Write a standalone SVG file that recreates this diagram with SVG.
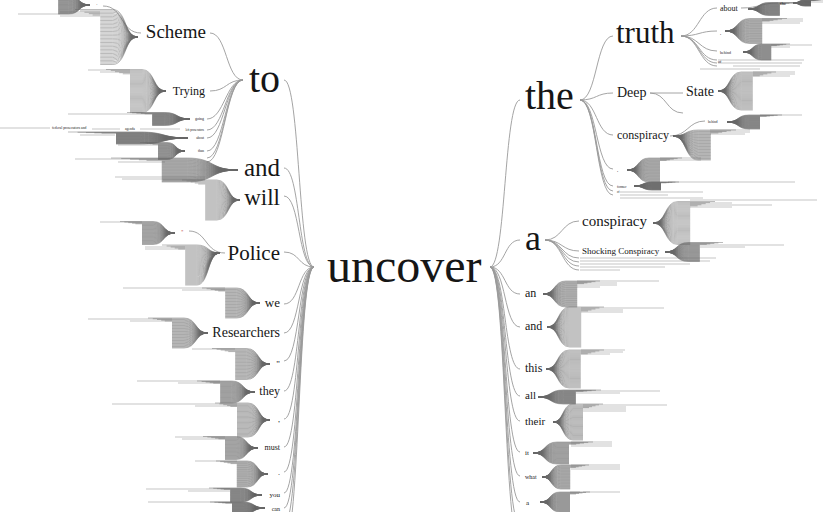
<svg xmlns="http://www.w3.org/2000/svg" xmlns:xlink="http://www.w3.org/1999/xlink" width="823" height="512" viewBox="0 0 823 512" font-family="'Liberation Serif','DejaVu Serif',serif">
<style>
text{font-family:'Liberation Serif','DejaVu Serif',serif;fill:#161616}
.l{text-anchor:end}
.c{fill:none;stroke:#9a9a9a;stroke-width:0.9}
.t{fill:none;stroke:#a0a0a0;stroke-width:0.6}
.f{fill:none;stroke:#666;stroke-width:0.45;vector-effect:non-scaling-stroke}
</style>
<defs>
<path id="fanM" class="f" d="M0 0C-22 0-18-50-40-50H-100M0 0C-22 0-18-47.5-40-47.5H-92M0 0C-22 0-18-45-40-45H-85M0 0C-22 0-18-42.5-40-42.5H-78M0 0C-22 0-18-40-40-40H-72M0 0C-22 0-18-37.5-40-37.5H-60M0 0C-22 0-18-35-40-35H-60M0 0C-22 0-18-32.5-40-32.5H-60M0 0C-22 0-18-30-40-30H-60M0 0C-22 0-18-27.5-40-27.5H-60M0 0C-22 0-18-25-40-25H-60M0 0C-22 0-18-22.5-40-22.5H-60M0 0C-22 0-18-20-40-20H-60M0 0C-22 0-18-17.5-40-17.5H-60M0 0C-22 0-18-15-40-15H-60M0 0C-22 0-18-12.5-40-12.5H-60M0 0C-22 0-18-10-40-10H-60M0 0C-22 0-18-7.5-40-7.5H-60M0 0C-22 0-18-5-40-5H-60M0 0C-22 0-18-2.5-40-2.5H-60M0 0H-60M0 0C-22 0-18 2.5-40 2.5H-60M0 0C-22 0-18 5-40 5H-60M0 0C-22 0-18 7.5-40 7.5H-60M0 0C-22 0-18 10-40 10H-60M0 0C-22 0-18 12.5-40 12.5H-60M0 0C-22 0-18 15-40 15H-60M0 0C-22 0-18 17.5-40 17.5H-60M0 0C-22 0-18 20-40 20H-60M0 0C-22 0-18 22.5-40 22.5H-60M0 0C-22 0-18 25-40 25H-60M0 0C-22 0-18 27.5-40 27.5H-60M0 0C-22 0-18 30-40 30H-60M0 0C-22 0-18 32.5-40 32.5H-60M0 0C-22 0-18 35-40 35H-60M0 0C-22 0-18 37.5-40 37.5H-60M0 0C-22 0-18 40-40 40H-60M0 0C-22 0-18 42.5-40 42.5H-60M0 0C-22 0-18 45-40 45H-60M0 0C-22 0-18 47.5-40 47.5H-60M0 0C-22 0-18 50-40 50H-60"/>
<path id="fanT" class="f" d="M0 0C-22 0-18-20-40-20H-100M0 0C-22 0-18-17.5-40-17.5H-92M0 0C-22 0-18-15-40-15H-85M0 0C-22 0-18-12.5-40-12.5H-78M0 0C-22 0-18-10-40-10H-72M0 0C-22 0-18-7.5-40-7.5H-60M0 0C-22 0-18-5-40-5H-60M0 0C-22 0-18-2.5-40-2.5H-60M0 0H-60M0 0C-22 0-18 2.5-40 2.5H-60M0 0C-22 0-18 5-40 5H-60M0 0C-22 0-18 7.5-40 7.5H-60M0 0C-22 0-18 10-40 10H-60M0 0C-22 0-18 12.5-40 12.5H-60M0 0C-22 0-18 15-40 15H-60M0 0C-22 0-18 17.5-40 17.5H-60M0 0C-22 0-18 20-40 20H-60M0 0C-22 0-18 22.5-40 22.5H-60M0 0C-22 0-18 25-40 25H-60M0 0C-22 0-18 27.5-40 27.5H-60M0 0C-22 0-18 30-40 30H-60M0 0C-22 0-18 32.5-40 32.5H-60M0 0C-22 0-18 35-40 35H-60M0 0C-22 0-18 37.5-40 37.5H-60M0 0C-22 0-18 40-40 40H-60M0 0C-22 0-18 42.5-40 42.5H-60M0 0C-22 0-18 45-40 45H-60M0 0C-22 0-18 47.5-40 47.5H-60M0 0C-22 0-18 50-40 50H-60M0 0C-22 0-18 52.5-40 52.5H-60M0 0C-22 0-18 55-40 55H-60M0 0C-22 0-18 57.5-40 57.5H-60M0 0C-22 0-18 60-40 60H-60M0 0C-22 0-18 62.5-40 62.5H-60M0 0C-22 0-18 65-40 65H-60M0 0C-22 0-18 67.5-40 67.5H-60M0 0C-22 0-18 70-40 70H-60M0 0C-22 0-18 72.5-40 72.5H-60M0 0C-22 0-18 75-40 75H-60M0 0C-22 0-18 77.5-40 77.5H-60M0 0C-22 0-18 80-40 80H-60"/>
</defs>

<g id="connectors">
<path class="c" d="M314 267C298 267 300 80 284 80M314 267C298 267 300 168 284 168M314 267C298 267 300 196 284 196M314 267C298 267 300 252 284 252M314 267C298 267 300 304 284 304M314 267C298 267 300 333 284 333M314 267C298 267 300 361 284 361M314 267C298 267 300 391 284 391M314 267C298 267 300 419 284 419M314 267C298 267 300 447 284 447M314 267C298 267 300 472 284 472M314 267C298 267 300 493 284 493M314 267C298 267 300 508 284 508M314 267C298 267 300 525 284 525M314 267C298 267 300 545 284 545"/>
<path class="c" d="M490 267C506 267 504 100 520 100M490 267C506 267 504 240 520 240M490 267C506 267 504 294 520 294M490 267C506 267 504 327 520 327M490 267C506 267 504 369 520 369M490 267C506 267 504 396 520 396M490 267C506 267 504 421 520 421M490 267C506 267 504 452 520 452M490 267C506 267 504 476 520 476M490 267C506 267 504 502 520 502M490 267C506 267 504 525 520 525M490 267C506 267 504 545 520 545"/>
<path class="c" d="M243 80C226 80 227 33 210 33M243 80C226 80 227 91 210 91M243 80C226 80 224 119 207 119M243 80C226 80 224 130 207 130M243 80C226 80 224 138 207 138M243 80C226 80 224 151 207 151M243 80C226 80 224 158 207 158M243 80C226 80 224 162 207 162"/>
<path class="c" d="M141 33C120 33 124 6 103 6M225 253C205 253 207 231 189 231"/>
<path class="c" d="M580 100C597 100 596 36 613 36M580 100C597 100 596 93 613 93M580 100C597 100 596 135 613 135M580 100C597 100 596 169 613 169M580 100C597 100 596 186 613 186M580 100C597 100 596 191 613 191M580 100C597 100 596 195 613 195"/>
<path class="c" d="M681 36C699 36 699 8 717 8M681 36C699 36 699 31 717 31M681 36C699 36 699 51 717 51M681 36C699 36 699 60 717 60M681 36C699 36 699 63 717 63M681 36C699 36 699 66 717 66"/>
<path class="c" d="M650 93H683M650 93C667 93 666 113 683 113M670 136C688 136 688 121 705 121M741 8C760 8 760 3 778 3"/>
<path class="c" d="M545 240C562 240 562 221 579 221M545 240C562 240 562 251 579 251M545 240C562 240 562 258 579 258M545 240C562 240 562 262 579 262M545 240C562 240 562 266 579 266M545 240C562 240 562 270 579 270"/>
<path class="t" d="M60 12H100M18 14H100M60 16H100M88 70H130M100 72H130M68 114H152M0 128H50M92 129H120M140 129H180M80 135H115M118 145H158M75 159H170M118 162H165M115 177H205M122 179H205M163 180H205M100 222H142M145 247H185M145 249H185M123 288H225M182 290H225M88 319H172M130 321H172M192 349H235M137 381H220M178 383H220M112 404H237M195 406H237M175 437H225M182 439H225M195 461H237M146 489H230M188 491H230M148 502H232"/>
<path class="t" d="M800 2H823M762 19H803M762 21H803M762 23H800M771 45H812M771 47H790M718 60H804M718 63H802M733 66H800M700 69H760M753 72H795M753 74H795M753 76H790M760 115H802M710 130H750M710 132H750M710 134H745M660 158H701M660 160H701M668 182H795M620 192H703M620 195H668M620 198H703M690 200H817M690 203H732M690 205H772M690 207H732M700 245H784M700 247H745M580 258H716M580 261H710M580 264H690M580 267H665M580 270H620M577 281H659M577 283H617M577 285H617M577 287H600M581 308H664M581 310H623M581 312H623M581 350H625M581 352H623M581 354H610M576 391H660M576 393H620M583 405H667M583 407H626M583 409H626M583 411H626M571 442H612M571 444H612M571 446H612M571 465H620M571 467H620M571 469H620M570 492H580M583 492H620"/>
</g>

<g id="n-uncover"><text x="327" y="282" font-size="48">uncover</text></g>

<g id="n-to"><text class="l" x="280" y="92" font-size="40">to</text></g>
<g id="n-scheme"><use xlink:href="#fanM" transform="translate(138,37) scale(.63,.55)"/><text class="l" x="206" y="38" font-size="19">Scheme</text></g>
<g id="n-dot"><use xlink:href="#fanM" transform="translate(90,5) scale(.53,.18)"/><text x="96" y="6" font-size="5">·</text></g>
<g id="n-trying"><use xlink:href="#fanM" transform="translate(166,91) scale(.6,.43)"/><text class="l" x="205" y="95" font-size="12">Trying</text></g>
<g id="n-going"><use xlink:href="#fanM" transform="translate(190,119) scale(.63,.13)"/><text class="l" x="204" y="120" font-size="4">going</text></g>
<g id="n-leftpros"><text class="l" x="204" y="131" font-size="3">left prosecutors</text><text x="125" y="130" font-size="3.5">agenda</text><text x="52" y="129" font-size="3.7">federal prosecutors and</text></g>
<g id="n-about-l"><use xlink:href="#fanM" transform="translate(188,138) scale(1.2,.12)"/><text class="l" x="204" y="139" font-size="3.5">about</text></g>
<g id="n-than"><use xlink:href="#fanM" transform="translate(185,151) scale(.45,.17)"/><text class="l" x="204" y="152" font-size="3.5">than</text></g>
<g id="n-and-l"><use xlink:href="#fanM" transform="translate(238,170) scale(1.27,.24)"/><text class="l" x="280" y="176" font-size="25">and</text></g>
<g id="n-will"><use xlink:href="#fanM" transform="translate(240,200) scale(.58,.4)"/><text class="l" x="280" y="205" font-size="23">will</text></g>
<g id="n-star"><use xlink:href="#fanM" transform="translate(175,233) scale(.55,.23)"/><text x="181" y="233" font-size="5" style="fill:#c04040">*</text></g>
<g id="n-police"><use xlink:href="#fanT" transform="translate(220,253) scale(.58,.4)"/><text class="l" x="280" y="260" font-size="21">Police</text></g>
<g id="n-we"><use xlink:href="#fanM" transform="translate(260,303) scale(.58,.3)"/><text class="l" x="280" y="307" font-size="13">we</text></g>
<g id="n-researchers"><use xlink:href="#fanM" transform="translate(208,333) scale(.6,.3)"/><text class="l" x="280" y="337" font-size="14">Researchers</text></g>
<g id="n-quote"><use xlink:href="#fanM" transform="translate(270,364) scale(.58,.31)"/><text class="l" x="280" y="367" font-size="9">"</text></g>
<g id="n-they"><use xlink:href="#fanM" transform="translate(255,392) scale(.58,.22)"/><text class="l" x="280" y="395" font-size="12">they</text></g>
<g id="n-comma-l"><use xlink:href="#fanM" transform="translate(270,420) scale(.55,.34)"/><text class="l" x="280" y="422" font-size="8">,</text></g>
<g id="n-must"><use xlink:href="#fanM" transform="translate(258,448) scale(.55,.23)"/><text class="l" x="280" y="450" font-size="8">must</text></g>
<g id="n-period"><use xlink:href="#fanM" transform="translate(268,474) scale(.52,.26)"/><text class="l" x="280" y="475" font-size="8">.</text></g>
<g id="n-you"><use xlink:href="#fanM" transform="translate(262,495) scale(.53,.14)"/><text class="l" x="280" y="497" font-size="7">you</text></g>
<g id="n-can"><use xlink:href="#fanM" transform="translate(265,508) scale(.55,.12)"/><text class="l" x="280" y="511" font-size="6">can</text></g>

<g id="n-the"><text x="525" y="109" font-size="40">the</text></g>
<g id="n-truth"><text x="616" y="43" font-size="31">truth</text></g>
<g id="n-about-r"><use xlink:href="#fanM" transform="translate(748,9) scale(-.53,.13)"/><text x="720" y="11" font-size="8">about</text></g>
<g id="n-the-s"><use xlink:href="#fanM" transform="translate(793,3) scale(-.3,.06)"/><text x="780" y="5" font-size="5">the</text></g>
<g id="n-comma-t"><use xlink:href="#fanM" transform="translate(725,31) scale(-.62,.25)"/><text x="720" y="34" font-size="5">,</text></g>
<g id="n-behind"><use xlink:href="#fanM" transform="translate(743,52) scale(-.47,.16)"/><text x="720" y="54" font-size="4">behind</text></g>
<g id="n-of-t"><text x="718" y="63" font-size="4">of</text></g>
<g id="n-deep"><text x="617" y="97" font-size="14">Deep</text></g>
<g id="n-state"><use xlink:href="#fanM" transform="translate(718,91) scale(-.58,.38)"/><text x="686" y="96" font-size="14">State</text></g>
<g id="n-consp-the"><use xlink:href="#fanT" transform="translate(673,136) scale(-.63,.3)"/><text x="617" y="139" font-size="12">conspiracy</text></g>
<g id="n-behind2"><use xlink:href="#fanM" transform="translate(727,122) scale(-.55,.14)"/><text x="708" y="123" font-size="3.5">behind</text></g>
<g id="n-comma-the"><use xlink:href="#fanM" transform="translate(627,170) scale(-.55,.24)"/><text x="617" y="171" font-size="5">,</text></g>
<g id="n-former"><use xlink:href="#fanM" transform="translate(634,186) scale(-.45,.08)"/><text x="617" y="188" font-size="3.5">former</text><text x="617" y="193" font-size="3">of</text></g>
<g id="n-a"><text x="525" y="250" font-size="36">a</text></g>
<g id="n-consp-a"><use xlink:href="#fanM" transform="translate(653,223) scale(-.62,.43)"/><text x="582" y="226" font-size="15">conspiracy</text></g>
<g id="n-shocking"><use xlink:href="#fanM" transform="translate(665,252) scale(-.58,.19)"/><text x="582" y="254" font-size="9">Shocking Conspiracy</text></g>
<g id="n-an"><use xlink:href="#fanM" transform="translate(543,294) scale(-.57,.26)"/><text x="525" y="297" font-size="12">an</text></g>
<g id="n-and-r"><use xlink:href="#fanM" transform="translate(547,327) scale(-.57,.4)"/><text x="525" y="330" font-size="12">and</text></g>
<g id="n-this"><use xlink:href="#fanM" transform="translate(546,369) scale(-.58,.38)"/><text x="525" y="372" font-size="12">this</text></g>
<g id="n-all"><use xlink:href="#fanM" transform="translate(538,397) scale(-.63,.14)"/><text x="525" y="399" font-size="11">all</text></g>
<g id="n-their"><use xlink:href="#fanM" transform="translate(553,422) scale(-.5,.36)"/><text x="525" y="425" font-size="11">their</text></g>
<g id="n-it"><use xlink:href="#fanM" transform="translate(533,453) scale(-.6,.22)"/><text x="525" y="455" font-size="7">it</text></g>
<g id="n-what"><use xlink:href="#fanM" transform="translate(542,477) scale(-.47,.24)"/><text x="525" y="479" font-size="6">what</text></g>
<g id="n-a2"><use xlink:href="#fanM" transform="translate(540,502) scale(-.5,.2)"/><text x="526" y="505" font-size="7">a</text></g>
</svg>
